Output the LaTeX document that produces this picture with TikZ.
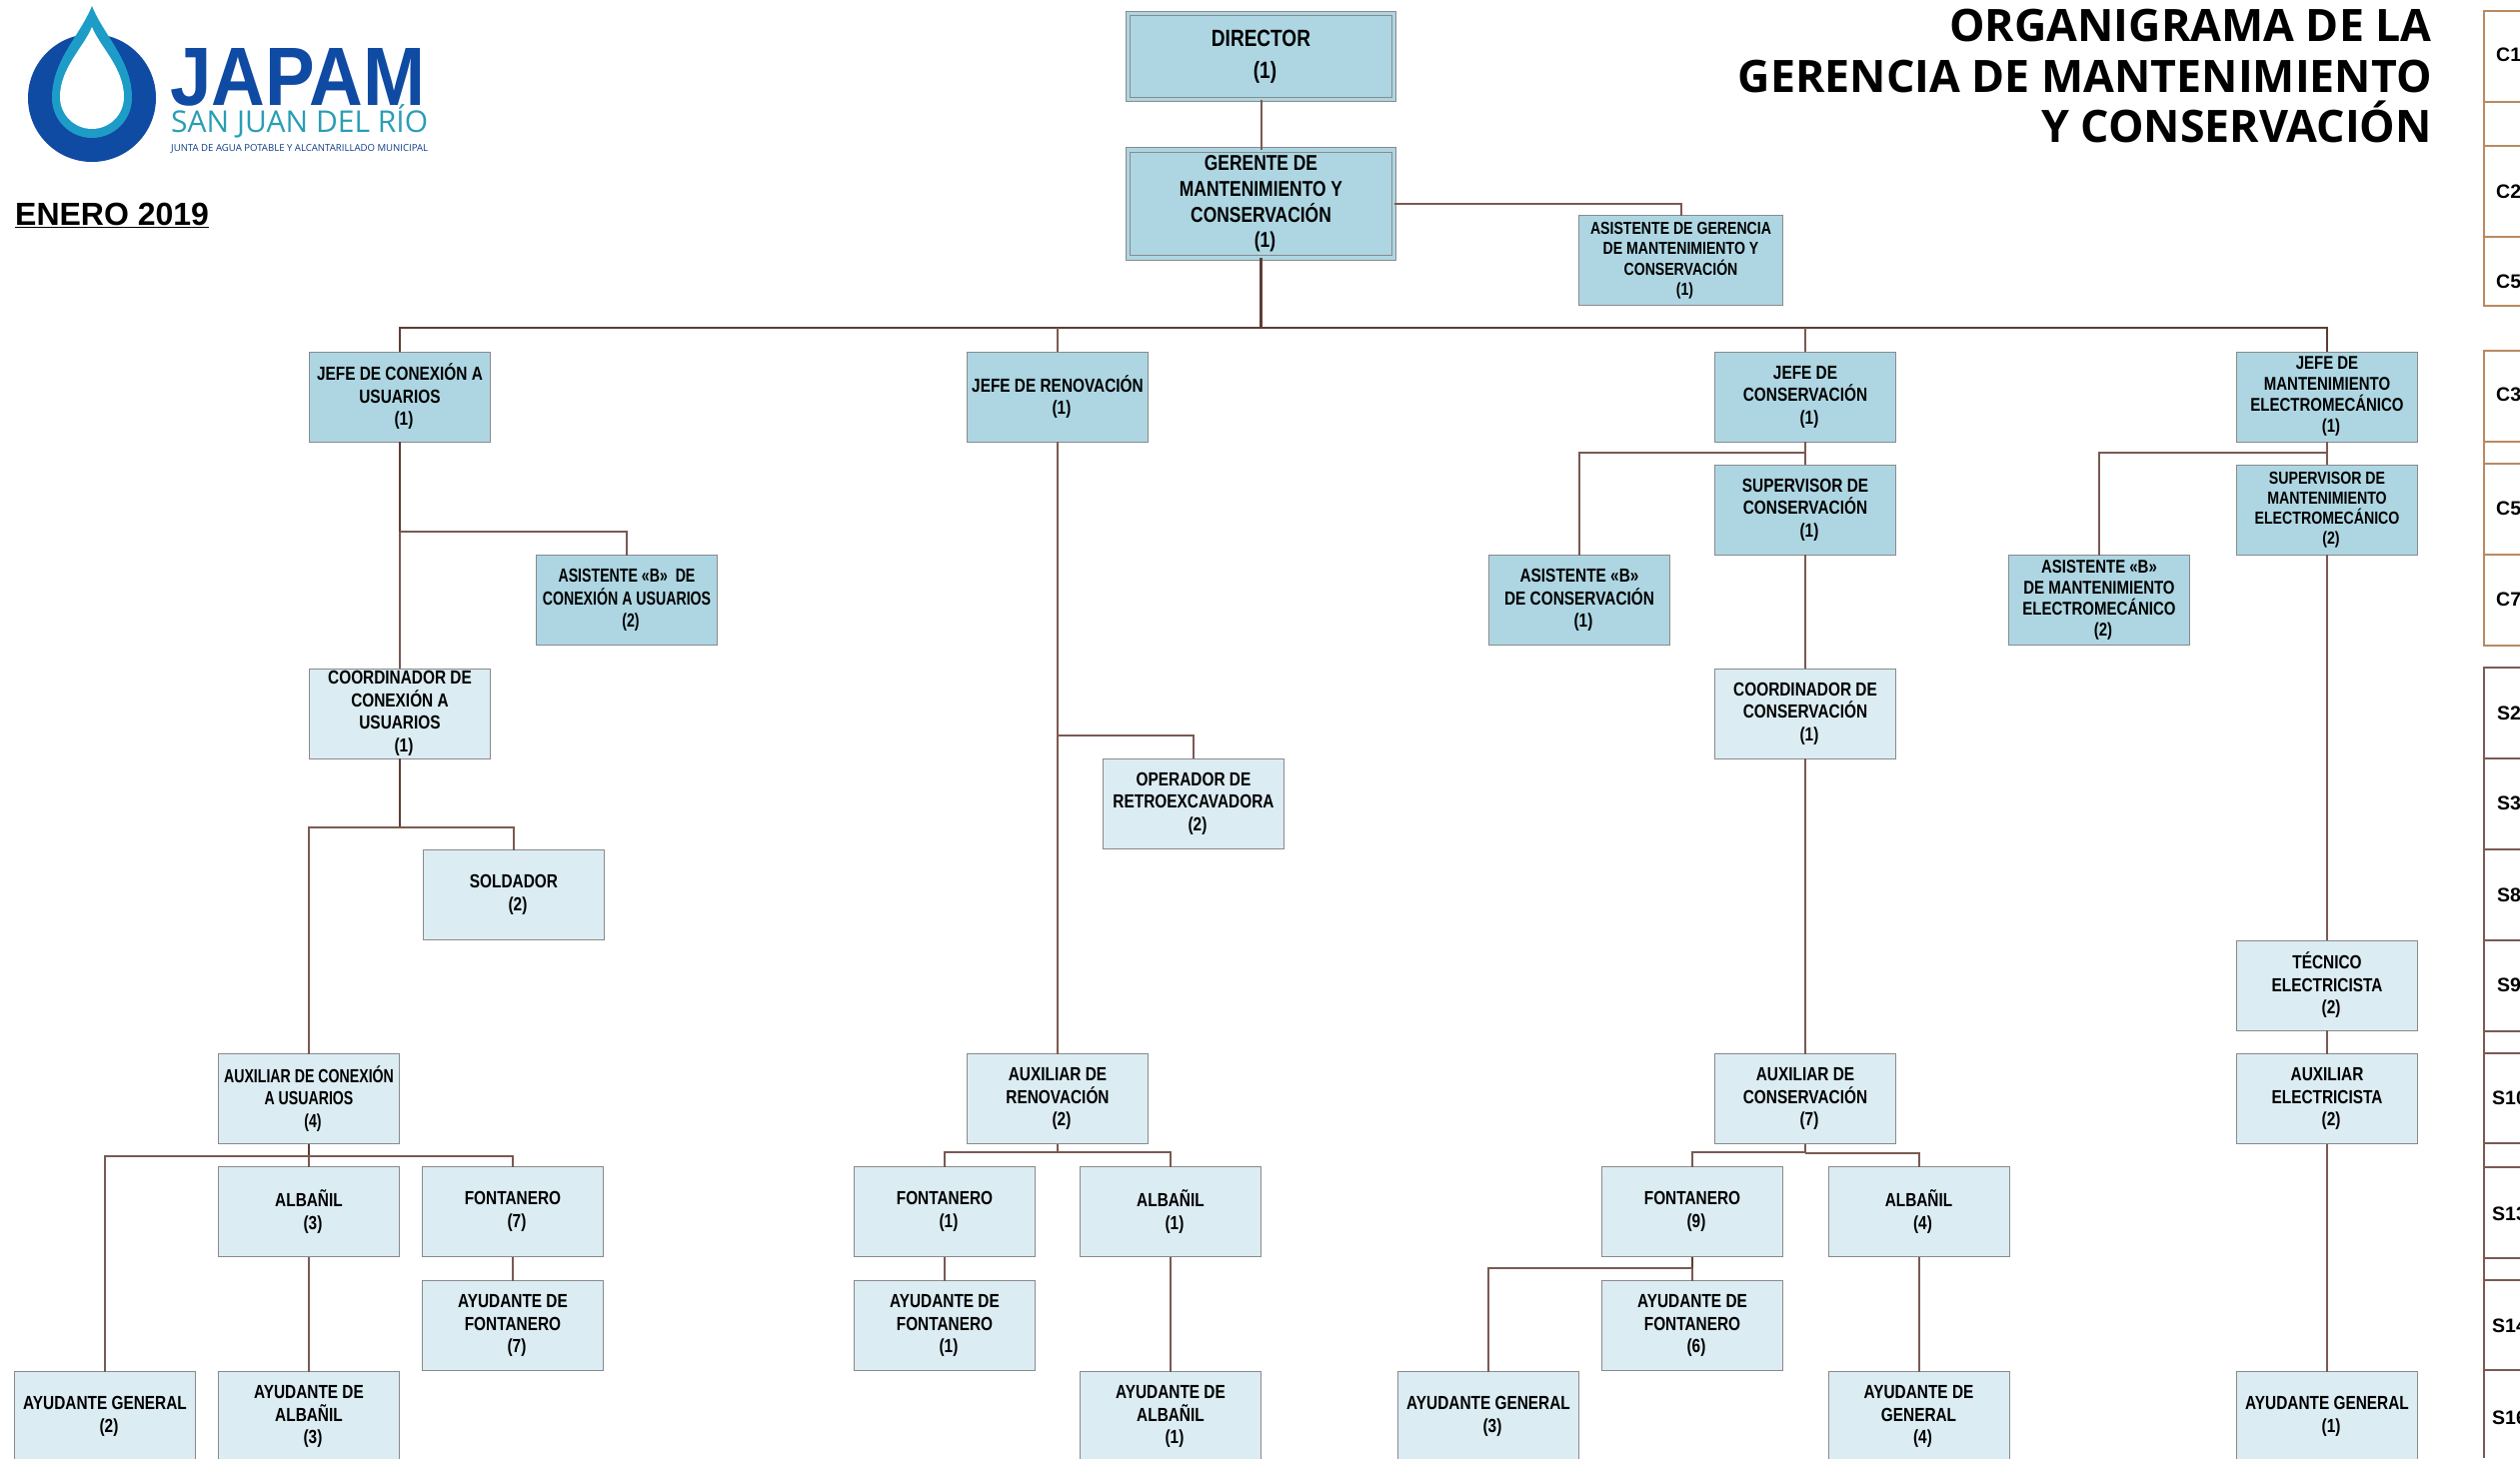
\documentclass[tikz,border=0pt]{standalone}
\usepackage{fontspec}
\setmainfont{Liberation Sans}
\newfontfamily\boxf[FakeStretch=0.81]{Liberation Sans}
\newfontfamily\boxg[FakeStretch=0.745]{Liberation Sans}
\newfontfamily\titlef{Open Sans}
\newfontfamily\logof{Open Sans}
\definecolor{dk}{HTML}{ADD6E2}
\definecolor{lt}{HTML}{DBECF2}
\definecolor{edge}{HTML}{8A8A8C}
\definecolor{brn}{HTML}{7A5A52}
\definecolor{brnd}{HTML}{5E3C32}
\definecolor{org}{HTML}{B98A62}
\definecolor{jblue}{HTML}{0F4AA3}
\definecolor{jlight}{HTML}{1E9CC8}
\definecolor{jteal}{HTML}{2A9DB5}
\newcommand{\nnn}[1]{\hspace*{8pt}(#1)}
\tikzset{
  x=1pt,y=-1pt,
  box/.style={draw=edge,line width=1pt,inner sep=0pt,outer sep=0pt,minimum width=181pt,minimum height=90pt,align=center,text=black,
     font=\boxf\bfseries\fontsize{19}{22.5}\selectfont},
  dkbox/.style={box,fill=dk},
  ltbox/.style={box,fill=lt},
  mant/.style={dkbox,font=\boxf\bfseries\fontsize{18.5}{21}\selectfont},
  narrow/.style={font=\boxg\bfseries\fontsize{19}{22.5}\selectfont},
  topbox/.style={dkbox,double=dk,double distance=3.5pt,minimum width=266pt},
  conn/.style={draw=brn,line width=2pt},
  trunk/.style={draw=brnd,line width=2.4pt},
  tabo/.style={draw=org,line width=2.2pt},
  tabs/.style={draw=brn,line width=2.2pt},
  tablab/.style={anchor=west,inner sep=0pt,font=\bfseries\fontsize{19.5}{22}\selectfont},
}
\begin{document}
\begin{tikzpicture}
\useasboundingbox (0,0) rectangle (2521,1459);
\clip (0,0) rectangle (2521,1459);

% logo
\fill[jblue] (92,98) circle[radius=64];
\fill[jlight] (92,6) .. controls (80,36) and (52,60) .. (52,98) arc[start angle=180,end angle=0,radius=40] .. controls (132,60) and (104,36) .. (92,6) -- cycle;
\fill[white] (92,27) .. controls (84,47) and (60,68) .. (60,97) arc[start angle=180,end angle=0,radius=32] .. controls (124,68) and (100,47) .. (92,27) -- cycle;
\node[anchor=south west,inner sep=0pt,text=jblue] (japam) at (170,107) {\resizebox{255pt}{57pt}{\bfseries JAPAM}};
\node[anchor=south west,inner sep=0pt,text=jteal] (sanjuan) at (171,138) {\resizebox{257pt}{!}{\logof SAN JUAN DEL RÍO}};
\node[anchor=south west,inner sep=0pt,text=jblue!80!black] (junta) at (171,154) {\resizebox{257pt}{!}{\logof JUNTA DE AGUA POTABLE Y ALCANTARILLADO MUNICIPAL}};
\node[anchor=base west,inner sep=0pt,font=\bfseries\fontsize{32}{36}\selectfont] (enero) at (15,225) {\underline{ENERO 2019}};

% title
\node[anchor=north east,inner sep=0pt,align=right,font=\titlef\bfseries\fontsize{44.7}{50.6}\selectfont] (title) at (2433,9) {ORGANIGRAMA DE LA\\GERENCIA DE MANTENIMIENTO\\Y CONSERVACIÓN};

% top
\node[topbox,font=\boxf\bfseries\fontsize{23.5}{32}\selectfont,minimum height=86pt] (dir) at (1261.5,56.5) {DIRECTOR\\\nnn{1}};
\node[topbox,minimum height=108pt,font=\boxf\bfseries\fontsize{21.5}{25.7}\selectfont] (ger) at (1261.5,204) {GERENTE DE\\MANTENIMIENTO Y\\CONSERVACIÓN\\\nnn{1}};
\node[dkbox,minimum width=204pt,font=\boxf\bfseries\fontsize{17.4}{20.5}\selectfont] (asg) at (1681.5,260.5) {ASISTENTE DE GERENCIA\\DE MANTENIMIENTO Y\\CONSERVACIÓN\\\nnn{1}};

% jefes
\node[dkbox] (jcon) at (400,397) {JEFE DE CONEXIÓN A\\USUARIOS\\\nnn{1}};
\node[dkbox] (jren) at (1058,397) {JEFE DE RENOVACIÓN\\\nnn{1}};
\node[dkbox] (jcons) at (1806,397) {JEFE DE\\CONSERVACIÓN\\\nnn{1}};
\node[mant] (jman) at (2328,397) {JEFE DE\\MANTENIMIENTO\\ELECTROMECÁNICO\\\nnn{1}};

% second level
\node[dkbox] (supc) at (1806,510) {SUPERVISOR DE\\CONSERVACIÓN\\\nnn{1}};
\node[mant,font=\boxf\bfseries\fontsize{17.5}{20}\selectfont] (supm) at (2328,510) {SUPERVISOR DE\\MANTENIMIENTO\\ELECTROMECÁNICO\\\nnn{2}};
\node[dkbox,narrow] (asbcon) at (627,600.5) {ASISTENTE «B»\ \ DE\\CONEXIÓN A USUARIOS\\\nnn{2}};
\node[dkbox] (asbcons) at (1580,600.5) {ASISTENTE «B»\\DE CONSERVACIÓN\\\nnn{1}};
\node[mant] (asbman) at (2100,600.5) {ASISTENTE «B»\\DE MANTENIMIENTO\\ELECTROMECÁNICO\\\nnn{2}};

% light boxes
\node[ltbox] (coorcon) at (400,714) {COORDINADOR DE\\CONEXIÓN A\\USUARIOS\\\nnn{1}};
\node[ltbox] (coorcons) at (1806,714) {COORDINADOR DE\\CONSERVACIÓN\\\nnn{1}};
\node[ltbox] (oper) at (1194,804) {OPERADOR DE\\RETROEXCAVADORA\\\nnn{2}};
\node[ltbox] (sold) at (514,895.5) {SOLDADOR\\\nnn{2}};
\node[ltbox] (tec) at (2328,986) {TÉCNICO\\ELECTRICISTA\\\nnn{2}};
\node[ltbox,narrow] (auxcon) at (309,1099.5) {AUXILIAR DE CONEXIÓN\\A USUARIOS\\\nnn{4}};
\node[ltbox] (auxren) at (1058,1099.5) {AUXILIAR DE\\RENOVACIÓN\\\nnn{2}};
\node[ltbox] (auxcons) at (1806,1099.5) {AUXILIAR DE\\CONSERVACIÓN\\\nnn{7}};
\node[ltbox] (auxel) at (2328,1099.5) {AUXILIAR\\ELECTRICISTA\\\nnn{2}};
\node[ltbox] (alb3) at (309,1212.5) {ALBAÑIL\\\nnn{3}};
\node[ltbox] (fon7) at (513,1212.5) {FONTANERO\\\nnn{7}};
\node[ltbox] (fon1) at (945,1212.5) {FONTANERO\\\nnn{1}};
\node[ltbox] (alb1) at (1171,1212.5) {ALBAÑIL\\\nnn{1}};
\node[ltbox] (fon9) at (1693,1212.5) {FONTANERO\\\nnn{9}};
\node[ltbox] (alb4) at (1919.5,1212.5) {ALBAÑIL\\\nnn{4}};
\node[ltbox] (ayf7) at (513,1326.5) {AYUDANTE DE\\FONTANERO\\\nnn{7}};
\node[ltbox] (ayf1) at (945,1326.5) {AYUDANTE DE\\FONTANERO\\\nnn{1}};
\node[ltbox] (ayf6) at (1693,1326.5) {AYUDANTE DE\\FONTANERO\\\nnn{6}};
\node[ltbox] (gen2) at (105,1417.5) {AYUDANTE GENERAL\\\nnn{2}};
\node[ltbox] (aya3) at (309,1417.5) {AYUDANTE DE\\ALBAÑIL\\\nnn{3}};
\node[ltbox] (aya1) at (1171,1417.5) {AYUDANTE DE\\ALBAÑIL\\\nnn{1}};
\node[ltbox] (gen3) at (1489,1417.5) {AYUDANTE GENERAL\\\nnn{3}};
\node[ltbox] (ayg4) at (1919.5,1417.5) {AYUDANTE DE\\GENERAL\\\nnn{4}};
\node[ltbox] (gen1) at (2328,1417.5) {AYUDANTE GENERAL\\\nnn{1}};

% connectors
\draw[conn] (dir.south) -- (ger.north);
\draw[conn] (ger.east) -| (asg.north);
\draw[trunk] (ger.south) -- (ger.south |- 0,328);
\draw[trunk] (jcon.north) |- (jman.north |- 0,328) -- (jman.north);
\draw[conn] (jren.north) -- (jren.north |- 0,328);
\draw[conn] (jcons.north) -- (jcons.north |- 0,328);

\draw[trunk] (jcon.south) -- (jcon.south |- 0,532);
\draw[conn] (jcon.south |- 0,532) -- (coorcon.north);
\draw[conn] (jcon.south |- 0,532) -| (asbcon.north);
\draw[trunk] (coorcon.south) -- (coorcon.south |- 0,828);
\draw[conn] (coorcon.south |- 0,828) -| (sold.north);
\draw[conn] (coorcon.south |- 0,828) -| (auxcon.north);
\draw[trunk] (auxcon.south) -- (auxcon.south |- 0,1157);
\draw[conn] (auxcon.south |- 0,1157) -- (alb3.north);
\draw[conn] (auxcon.south |- 0,1157) -| (gen2.north);
\draw[conn] (auxcon.south |- 0,1157) -| (fon7.north);
\draw[conn] (alb3.south) -- (aya3.north);
\draw[conn] (fon7.south) -- (ayf7.north);

\draw[conn] (jren.south) -- (auxren.north);
\draw[conn] (jren.south |- 0,736) -| (oper.north);
\draw[conn] (auxren.south) -- (auxren.south |- 0,1153);
\draw[conn] (auxren.south |- 0,1153) -| (fon1.north);
\draw[conn] (auxren.south |- 0,1153) -| (alb1.north);
\draw[conn] (fon1.south) -- (ayf1.north);
\draw[conn] (alb1.south) -- (aya1.north);

\draw[conn] (jcons.south) -- (supc.north);
\draw[conn] (jcons.south |- 0,453) -| (asbcons.north);
\draw[conn] (supc.south) -- (coorcons.north);
\draw[conn] (coorcons.south) -- (auxcons.north);
\draw[conn] (auxcons.south) -- (auxcons.south |- 0,1154);
\draw[conn] (auxcons.south |- 0,1153) -| (fon9.north);
\draw[conn] (auxcons.south |- 0,1154) -| (alb4.north);
\draw[trunk] (fon9.south) -- (fon9.south |- 0,1269);
\draw[conn] (fon9.south |- 0,1269) -- (ayf6.north);
\draw[conn] (fon9.south |- 0,1269) -| (gen3.north);
\draw[conn] (alb4.south) -- (ayg4.north);

\draw[conn] (jman.south) -- (supm.north);
\draw[conn] (jman.south |- 0,453) -| (asbman.north);
\draw[conn] (supm.south) -- (tec.north);
\draw[conn] (tec.south) -- (auxel.north);
\draw[conn] (auxel.south) -- (gen1.north);

% side table
\draw[tabo] (2521,11) -- (2485,11) -- (2485,306) -- (2521,306);
\foreach \yy in {102,146,237} \draw[tabo] (2485,\yy) -- (2521,\yy);
\draw[tabo] (2521,351) -- (2485,351) -- (2485,646) -- (2521,646);
\foreach \yy in {442,464,555} \draw[tabo] (2485,\yy) -- (2521,\yy);
\draw[tabs] (2521,668) -- (2485,668) -- (2485,1459);
\foreach \yy in {759,850,941,1032,1054,1144,1168,1259,1281,1371} \draw[tabs] (2485,\yy) -- (2521,\yy);
\node[tablab] (c1) at (2497,55) {C1};
\node[tablab] (c2) at (2497,192) {C2};
\node[tablab] (c5a) at (2497,282) {C5};
\node[tablab] (c3) at (2497,395) {C3};
\node[tablab] (c5b) at (2497,509) {C5};
\node[tablab] (c7) at (2497,600) {C7};
\node[tablab] (s2) at (2498,714) {S2};
\node[tablab] (s3) at (2498,804) {S3};
\node[tablab] (s8) at (2498,896) {S8};
\node[tablab] (s9) at (2498,986) {S9};
\node[tablab] (s10) at (2493,1099) {S10};
\node[tablab] (s13) at (2493,1215) {S13};
\node[tablab] (s14) at (2493,1327) {S14};
\node[tablab] (s16) at (2493,1419) {S16};
\end{tikzpicture}
\end{document}
